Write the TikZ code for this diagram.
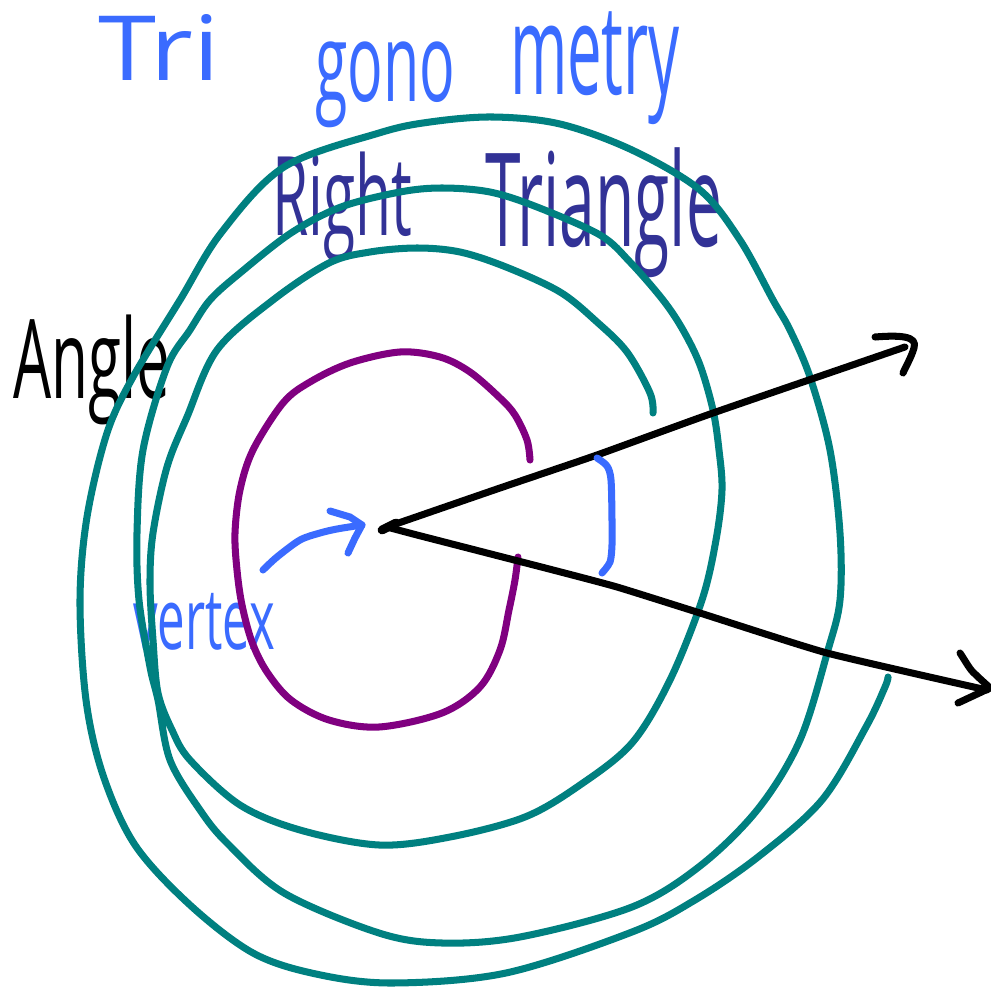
\documentclass[tikz,border=0pt]{standalone}
\usepackage{fontspec}
\setmainfont{Open Sans}
\usepackage{graphicx}
\definecolor{hblue}{RGB}{58,107,255}
\definecolor{hindigo}{RGB}{50,50,150}
\definecolor{hteal}{RGB}{0,128,128}
\definecolor{hpurple}{RGB}{128,0,128}
\newcommand\fitbox[3]{\resizebox*{#1}{#2}{#3}}
\tikzset{
  pen/.style={line width=4pt, line cap=round, line join=round},
  word/.style={anchor=north west, inner sep=0pt, outer sep=0pt},
}
\begin{document}
\begin{tikzpicture}[x=0.02cm, y=-0.02cm]
\useasboundingbox (0,0) rectangle (991,990);
\fill[white] (0,0) rectangle (991,990);

% texts
\node[word, text=hblue] (tri) at (98,14) {\fitbox{2.44cm}{1.32cm}{Tri}};
\node[word, text=hblue] (gono) at (315,42) {\fitbox{2.8cm}{1.72cm}{gono}};
\node[word, text=hblue] (metry) at (510,12) {\fitbox{3.4cm}{2.26cm}{metry}};
\node[word, text=hindigo] (right) at (272,152) {\fitbox{2.8cm}{2.2cm}{Right}};
\node[word, text=hindigo] (triangle) at (485,148) {\fitbox{4.74cm}{2.6cm}{Triangle}};
\node[word, text=black] (angle) at (13,315) {\fitbox{3.14cm}{2.2cm}{Angle}};
\node[word, text=hblue] (vertexlabel) at (133,593) {\fitbox{2.84cm}{1.14cm}{vertex}};

% teal spiral
\draw[pen, hteal] plot[smooth, tension=0.55] coordinates {
(653,413) (650,393) (627,352) (597,322) (560,292) (506,267) (460,252) (417,248)
(370,252) (329,263) (273,300) (217,350) (187,417) (167,467) (153,533) (150,583)
(153,640) (158,693) (172,730) (190,760) (240,805) (300,830) (379,845) (450,837)
(525,817) (580,785) (632,743) (670,680) (702,600) (716,540) (722,490) (719,450)
(713,410) (700,365) (683,330) (663,300) (630,262) (600,235) (537,207) (490,192)
(442,188) (400,192) (341,207) (291,233) (240,273) (210,300) (190,330) (167,367)
(143,450) (137,533) (139,600) (150,667) (158,700) (170,760) (200,810) (227,843)
(284,893) (379,933) (442,943) (520,937) (632,907) (700,866) (758,809) (800,740)
(828,650) (840,600) (840,533) (830,450) (810,377) (790,330) (773,300) (740,240)
(700,190) (632,150) (560,124) (493,117) (430,122) (379,133) (284,167) (221,233)
(180,300) (133,377) (107,433) (87,517) (80,600) (86,700) (103,775) (135,845)
(190,905) (253,953) (316,974) (392,983) (506,973) (632,932) (695,900)
(758,857) (822,800) (866,727) (885,687) (888,677)};

% purple curve
\draw[pen, hpurple] plot[smooth, tension=0.55] coordinates {
(530,460) (527,440) (515,415) (500,398) (470,372) (440,357) (400,352) (350,363)
(310,382) (283,403) (253,450) (240,490) (235,533) (237,570) (242,605) (252,642)
(267,672) (291,700) (329,720) (379,727) (442,713) (480,687) (500,650) (509,610)
(515,580) (518,557)};

% rays
\coordinate (V) at (387,527);
\coordinate (U1) at (500,488);
\coordinate (U2) at (597,455);
\coordinate (U3) at (713,413);
\coordinate (U4) at (905,347);
\coordinate (L0) at (417,535);
\coordinate (L1) at (553,570);
\coordinate (L2) at (617,587);
\coordinate (L3) at (700,613);
\coordinate (L4) at (827,653);
\coordinate (L5) at (987,690);
\draw[pen, black] plot[smooth, tension=0.3] coordinates {(V) (U1) (U2) (U3) (U4)};
\draw[pen, black] plot[smooth, tension=0.3] coordinates {(V) (L0) (L1) (L2) (L3) (L4) (L5)};
% arrowheads
\draw[pen, black] (875,337) .. controls (900,335) and (918,336) .. (914,348) .. controls (911,358) and (906,366) .. (903,373);
\draw[pen, black] (960,653) .. controls (966,662) and (970,670) .. (975,674) .. controls (980,679) and (986,684) .. (990,688) -- (958,703);
% vertex tick
\draw[line width=5pt, line cap=round, black] (382,530) -- (396,523);

% angle mark
\draw[pen, hblue] plot[smooth, tension=0.5] coordinates {
(597,458) (607,466) (611,480) (612,520) (612,545) (610,562) (602,573)};

% vertex pointer arrow
\coordinate (P0) at (263,570);
\coordinate (P1) at (362,525);
\draw[pen, hblue] plot[smooth, tension=0.5] coordinates {(P0) (277,557) (300,540) (320,533) (337,529) (P1)};
\draw[pen, hblue] (330,511) -- (350,517) -- (P1) -- (355,538) -- (348,553);
\end{tikzpicture}
\end{document}
